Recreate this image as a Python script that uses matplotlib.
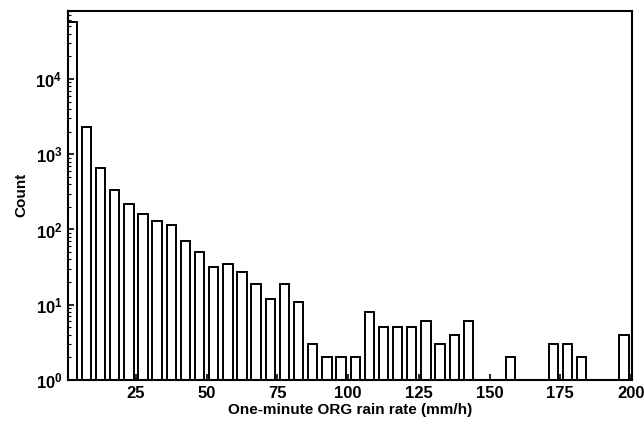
import numpy as np
import matplotlib
matplotlib.use("Agg")
import matplotlib.pyplot as plt
from matplotlib.ticker import LogLocator, NullFormatter

# 5 mm/h bins, lower edges 0..195
bin_left = list(range(0, 200, 5))
counts = [57000, 2300, 650, 330, 215, 160, 128, 115, 70, 50,
          32, 35, 27, 19, 12, 19, 11, 3, 2, 2,
          2, 8, 5, 5, 5, 6, 3, 4, 6, 0,
          0, 2, 0, 0, 3, 3, 2, 0, 0, 4]
xticks = [25, 50, 75, 100, 125, 150, 175, 200]

plt.rcParams['font.family'] = ['Liberation Sans', 'DejaVu Sans']
plt.rcParams['font.weight'] = 'bold'

fig = plt.figure(figsize=(6.44, 4.25), dpi=100)
ax = fig.add_axes([0.1056, 0.106, 0.876, 0.869])

centers = np.array(bin_left) + 2.5
heights = np.array(counts, dtype=float)
heights[heights == 0] = np.nan
ax.bar(centers, heights, width=3.3, bottom=0, color="white",
       edgecolor="black", linewidth=1.4)

ax.set_yscale("log")
ax.set_ylim(1, 8.1e4)
ax.set_xlim(1.0, 200.4)
ax.set_xticks(xticks)
ax.set_xticklabels([str(t) for t in xticks])
ax.yaxis.set_major_locator(LogLocator(base=10, numticks=10))
ax.yaxis.set_minor_locator(LogLocator(base=10, subs=np.arange(2, 10), numticks=10))
ax.yaxis.set_minor_formatter(NullFormatter())

ax.tick_params(axis="both", which="major", direction="in", length=4, width=1.2,
               labelsize=12, pad=4)
ax.tick_params(axis="both", which="minor", direction="in", length=2, width=0.8)
for lbl in ax.get_xticklabels() + ax.get_yticklabels():
    lbl.set_fontweight("bold")
for s in ax.spines.values():
    s.set_linewidth(1.5)

ax.set_xlabel("One-minute ORG rain rate (mm/h)", fontsize=11, fontweight="bold", labelpad=2)
ax.set_ylabel("Count", fontsize=11, fontweight="bold", labelpad=5)

fig.savefig("out.png", dpi=100)
